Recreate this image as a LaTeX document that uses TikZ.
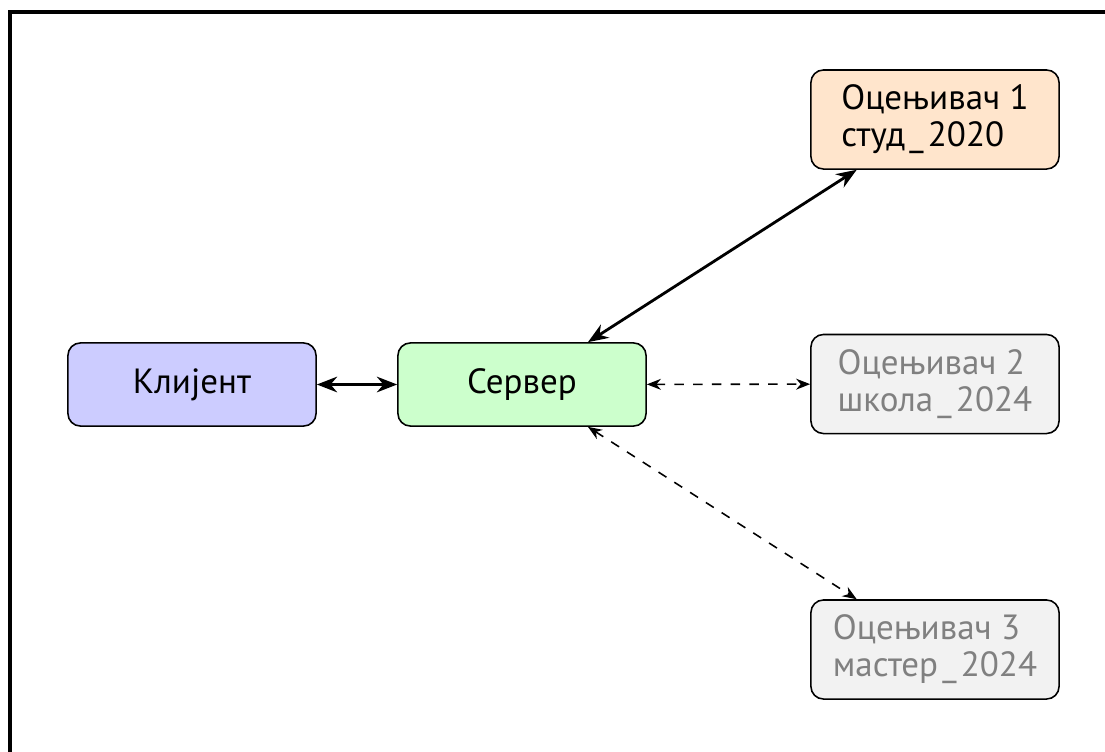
\documentclass[tikz,border=0pt]{standalone}
\usepackage{fontspec}
\setmainfont{PT Sans}
\usetikzlibrary{arrows.meta}
% spaced underscore between a group name and its year
\newcommand{\gap}{\kern0.12em\_\kern0.12em}
\tikzset{
  box/.style={draw=black, line width=0.5pt, rounded corners=4pt, align=center,
    minimum width=79.4pt, inner sep=2pt, font=\fontsize{11.2pt}{11.8pt}\selectfont},
  onebox/.style={box, minimum height=26.6pt},
  twobox/.style={box, align=left, minimum height=31.7pt},
  active/.style={twobox, fill=orange!20, text=black},
  idle/.style={twobox, fill=gray!10, text=gray},
  link/.style={line width=0.9pt, {Stealth[length=6.5pt,width=5pt]}-{Stealth[length=6.5pt,width=5pt]}},
  spare/.style={line width=0.5pt, dashed, {Stealth[length=4.5pt,width=3.5pt]}-{Stealth[length=4.5pt,width=3.5pt]}}
}
\begin{document}
\begin{tikzpicture}[x=0.32pt, y=-0.32pt]
  \useasboundingbox (0,0) rectangle (1105,751);
  \begin{scope}
    \clip (0,0) rectangle (1105,751);
    \draw[line width=1.1pt] (10,12) rectangle (1120,770);
  \end{scope}

  \node[onebox, fill=blue!20]  (client) at (192,384.5) {Клијент};
  \node[onebox, fill=green!20] (server) at (522,384.5) {Сервер};
  \node[active] (g1) at (935,119.5) {Оцењивач 1\\студ\gap 2020};
  \node[idle]   (g2) at (935,384)   {Оцењивач 2\\школа\gap 2024};
  \node[idle]   (g3) at (935,649.5) {Оцењивач 3\\мастер\gap 2024};

  \draw[link]  (client) -- (server);
  \draw[link]  (server) -- (g1);
  \draw[spare] (server) -- (g2);
  \draw[spare] (server) -- (g3);
\end{tikzpicture}
\end{document}
